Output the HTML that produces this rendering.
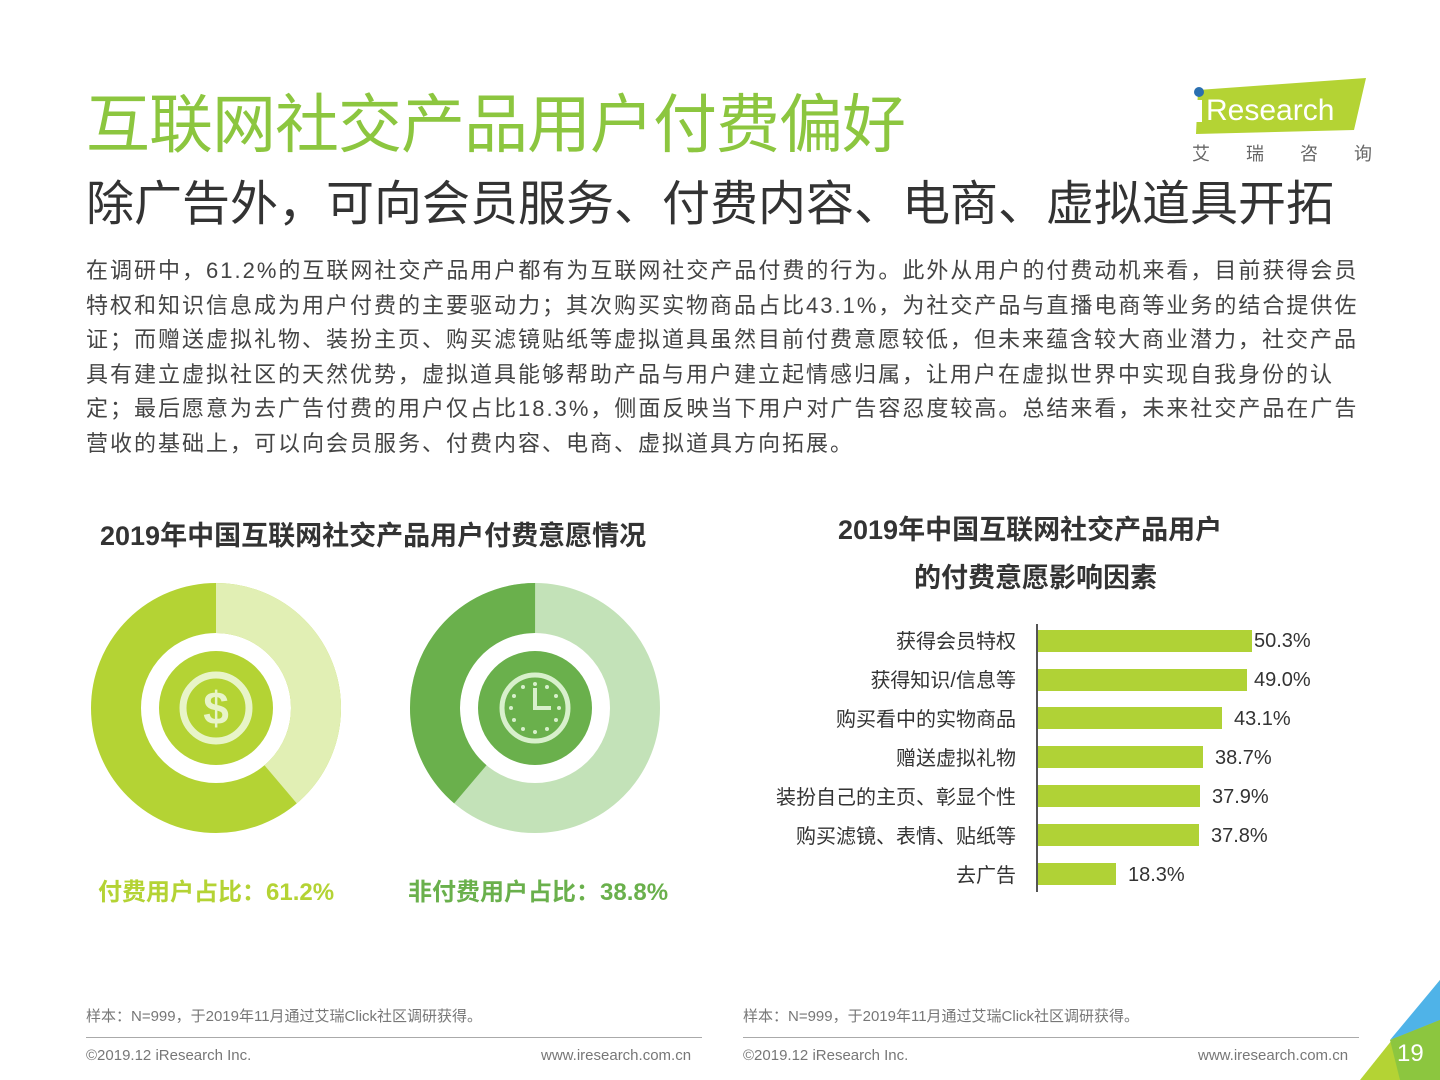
<!DOCTYPE html>
<html><head><meta charset="utf-8"><style>
body{margin:0;width:1440px;height:1080px;background:#fff;position:relative;overflow:hidden;font-family:"Liberation Sans","Noto Sans CJK SC",sans-serif;}
.a{position:absolute;white-space:nowrap;}
.lab{position:absolute;right:424px;font-size:20px;color:#333;text-align:right;}
.bar{position:absolute;left:1038px;height:22px;background:#b0d236;}
.val{position:absolute;font-size:20px;color:#333;}
.p div{height:34.6px;}
</style></head><body>
<div class="a" style="left:86px;top:74px;font-size:64px;color:#8cc63f;letter-spacing:-1px;">互联网社交产品用户付费偏好</div>
<div class="a" style="left:86px;top:164px;font-size:48px;color:#333;">除广告外，可向会员服务、付费内容、电商、虚拟道具开拓</div>
<svg class="a" style="left:1188px;top:76px" width="182" height="60"><polygon points="10,14 178,2 166,54 8,58" fill="#b4d334"/><circle cx="11" cy="16" r="5" fill="#2a6fb0"/><rect x="8" y="24" width="6" height="22" fill="#fff"/><text x="18" y="44" font-family="Liberation Sans" font-size="30" fill="#fff">Research</text></svg>
<div class="a" style="left:1192px;top:140px;font-size:18px;color:#666;letter-spacing:36px;">艾瑞咨询</div>
<div class="a p" style="left:86px;top:254px;font-size:22px;line-height:34.6px;color:#444;letter-spacing:2px;">
<div>在调研中，61.2%的互联网社交产品用户都有为互联网社交产品付费的行为。此外从用户的付费动机来看，目前获得会员</div>
<div>特权和知识信息成为用户付费的主要驱动力；其次购买实物商品占比43.1%，为社交产品与直播电商等业务的结合提供佐</div>
<div>证；而赠送虚拟礼物、装扮主页、购买滤镜贴纸等虚拟道具虽然目前付费意愿较低，但未来蕴含较大商业潜力，社交产品</div>
<div>具有建立虚拟社区的天然优势，虚拟道具能够帮助产品与用户建立起情感归属，让用户在虚拟世界中实现自我身份的认</div>
<div>定；最后愿意为去广告付费的用户仅占比18.3%，侧面反映当下用户对广告容忍度较高。总结来看，未来社交产品在广告</div>
<div>营收的基础上，可以向会员服务、付费内容、电商、虚拟道具方向拓展。</div>
</div>
<div class="a" style="left:100px;top:514px;font-size:27px;font-weight:bold;color:#333;">2019年中国互联网社交产品用户付费意愿情况</div>
<svg class="a" style="left:0;top:560px" width="720" height="300">
<g transform="translate(216,148)">
<circle r="100" fill="none" stroke="#b4d334" stroke-width="50"/>
<circle r="100" fill="none" stroke="#e1efb4" stroke-width="50" stroke-dasharray="243.8 1000" transform="rotate(-90)"/>
<circle r="57" fill="#b4d334"/>
<circle r="33" fill="none" stroke="#e8f4c8" stroke-width="7"/>
<text x="0" y="16" text-anchor="middle" font-size="46" font-weight="bold" fill="#e8f4c8" font-family="Liberation Sans">$</text>
</g>
<g transform="translate(535,148)">
<circle r="100" fill="none" stroke="#c3e2b8" stroke-width="50"/>
<circle r="100" fill="none" stroke="#6ab04c" stroke-width="50" stroke-dasharray="243.8 1000" transform="rotate(130.3)"/>
<circle r="57" fill="#6ab04c"/>
<circle r="33" fill="none" stroke="#d8f0cc" stroke-width="5"/>
<path d="M0,-20 V0 H16" stroke="#d8f0cc" stroke-width="4" fill="none"/>
<g fill="#d8f0cc"><circle cx="0" cy="-24" r="2"/><circle cx="0" cy="24" r="2"/><circle cx="24" cy="0" r="2"/><circle cx="-24" cy="0" r="2"/><circle cx="12" cy="-21" r="2"/><circle cx="-12" cy="-21" r="2"/><circle cx="12" cy="21" r="2"/><circle cx="-12" cy="21" r="2"/><circle cx="21" cy="12" r="2"/><circle cx="-21" cy="12" r="2"/><circle cx="21" cy="-12" r="2"/><circle cx="-21" cy="-12" r="2"/></g>
</g>
</svg>
<div class="a" style="left:98px;top:872px;font-size:24px;font-weight:bold;color:#b4d334;">付费用户占比：61.2%</div>
<div class="a" style="left:408px;top:872px;font-size:24px;font-weight:bold;color:#6ab04c;">非付费用户占比：38.8%</div>
<div class="a" style="left:838px;top:508px;font-size:27px;font-weight:bold;color:#333;">2019年中国互联网社交产品用户</div>
<div class="a" style="left:914px;top:556px;font-size:27px;font-weight:bold;color:#333;">的付费意愿影响因素</div>
<div class="a" style="left:1036px;top:624px;width:2px;height:268px;background:#555;"></div>
<div class="lab" style="top:625px">获得会员特权</div><div class="bar" style="top:630px;width:214px"></div><div class="val" style="left:1254px;top:630px">50.3%</div>
<div class="lab" style="top:664px">获得知识/信息等</div><div class="bar" style="top:669px;width:209px"></div><div class="val" style="left:1254px;top:669px">49.0%</div>
<div class="lab" style="top:703px">购买看中的实物商品</div><div class="bar" style="top:707px;width:184px"></div><div class="val" style="left:1234px;top:708px">43.1%</div>
<div class="lab" style="top:742px">赠送虚拟礼物</div><div class="bar" style="top:746px;width:165px"></div><div class="val" style="left:1215px;top:747px">38.7%</div>
<div class="lab" style="top:781px">装扮自己的主页、彰显个性</div><div class="bar" style="top:785px;width:162px"></div><div class="val" style="left:1212px;top:786px">37.9%</div>
<div class="lab" style="top:820px">购买滤镜、表情、贴纸等</div><div class="bar" style="top:824px;width:161px"></div><div class="val" style="left:1211px;top:825px">37.8%</div>
<div class="lab" style="top:859px">去广告</div><div class="bar" style="top:863px;width:78px"></div><div class="val" style="left:1128px;top:864px">18.3%</div>
<div class="a" style="left:86px;top:1005px;font-size:15px;color:#777;">样本：N=999，于2019年11月通过艾瑞Click社区调研获得。</div>
<div class="a" style="left:743px;top:1005px;font-size:15px;color:#777;">样本：N=999，于2019年11月通过艾瑞Click社区调研获得。</div>
<div class="a" style="left:86px;top:1037px;width:616px;height:1px;background:#aaa;"></div>
<div class="a" style="left:743px;top:1037px;width:616px;height:1px;background:#aaa;"></div>
<div class="a" style="left:86px;top:1047px;font-size:15px;color:#777;">©2019.12 iResearch Inc.</div>
<div class="a" style="left:541px;top:1047px;font-size:15px;color:#777;">www.iresearch.com.cn</div>
<div class="a" style="left:743px;top:1047px;font-size:15px;color:#777;">©2019.12 iResearch Inc.</div>
<div class="a" style="left:1198px;top:1047px;font-size:15px;color:#777;">www.iresearch.com.cn</div>
<svg class="a" style="left:1360px;top:980px" width="80" height="100"><polygon points="80,0 80,100 0,100" fill="#b4d334"/><polygon points="80,0 80,40 30,60" fill="#4fb3e8"/><polygon points="80,40 80,100 40,100 30,60" fill="#8cc63f"/></svg>
<div class="a" style="left:1397px;top:1040px;font-size:24px;color:#fff;">19</div>
</body></html>
